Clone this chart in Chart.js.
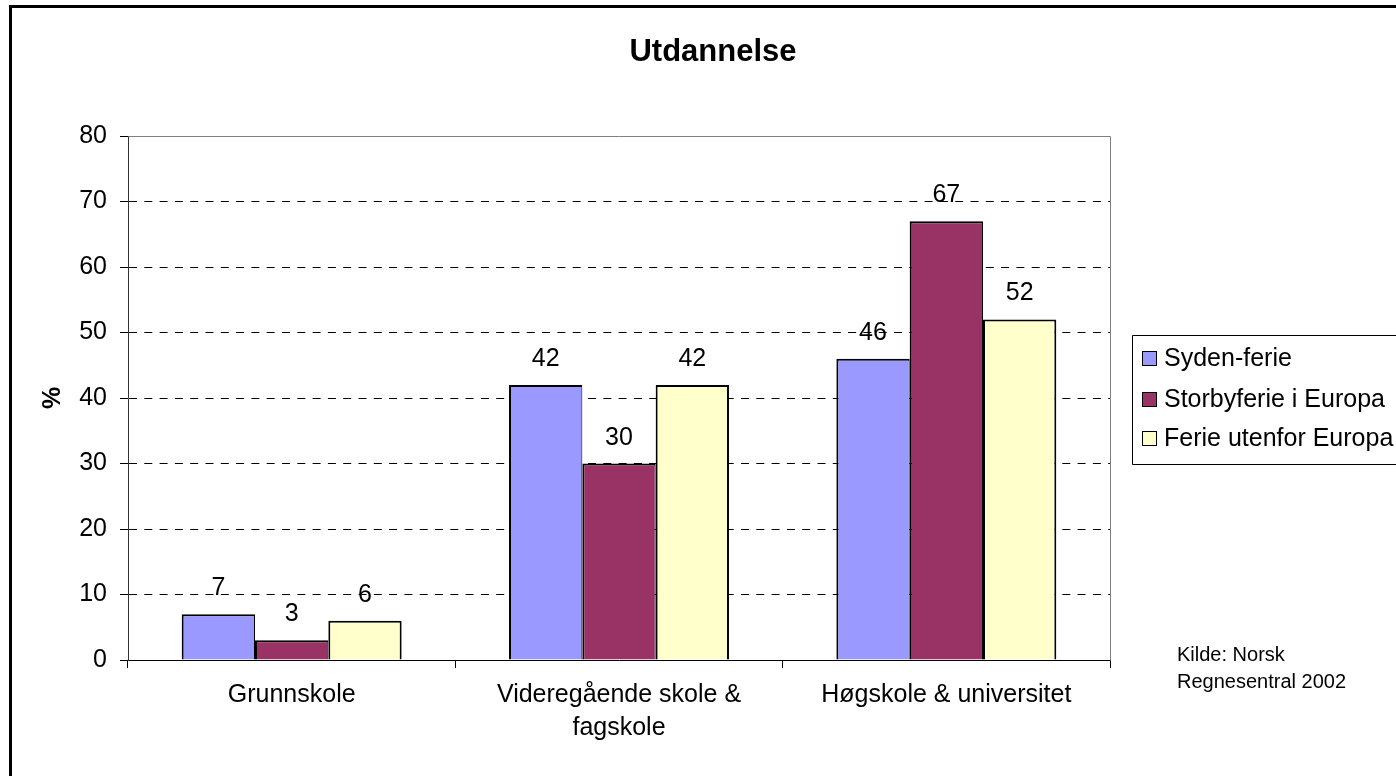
<!DOCTYPE html>
<html>
<head>
<meta charset="utf-8">
<script src="https://cdn.jsdelivr.net/npm/chart.js@4/dist/chart.umd.min.js"></script>
<style>
html,body{margin:0;padding:0;background:#fff;overflow:hidden}
canvas{display:block}
</style>
</head>
<body>
<canvas id="c" width="1396" height="776"></canvas>
<script>
// ---- data ----
const chartTitle = 'Utdannelse';
const categories = [['Grunnskole'], ['Videregående skole &', 'fagskole'], ['Høgskole & universitet']];
const seriesNames = ['Syden-ferie', 'Storbyferie i Europa', 'Ferie utenfor Europa'];
const sydenFerie = [7, 42, 46];
const storbyferieEuropa = [3, 30, 67];
const ferieUtenforEuropa = [6, 42, 52];
const yTicks = [0, 10, 20, 30, 40, 50, 60, 70, 80];
const yAxisTitle = '%';
const sourceLines = ['Kilde: Norsk', 'Regnesentral 2002'];

// ---- styles ----
const seriesColors = ['#9999FF', '#993366', '#FFFFCC'];
const FONT = '"Liberation Sans", Arial, sans-serif';
Chart.defaults.font.family = FONT;
Chart.defaults.color = '#000';

const seriesValues = [sydenFerie, storbyferieEuropa, ferieUtenforEuropa];
const borderWidths = [
  {top: 2, left: 2, right: 1, bottom: 0},
  {top: 2, left: 2, right: 1, bottom: 0},
  {top: 2, left: 2, right: 2, bottom: 0}
];

const decorPlugin = {
  id: 'decor',
  beforeDraw(chart) {
    const ctx = chart.ctx;
    ctx.save();
    ctx.fillStyle = '#fff';
    ctx.fillRect(0, 0, chart.width, chart.height);
    ctx.restore();
  },
  afterDatasetsDraw(chart) {
    const ctx = chart.ctx;
    const a = chart.chartArea;
    ctx.save();
    // plot area border (top, right)
    ctx.strokeStyle = '#808080';
    ctx.lineWidth = 1;
    ctx.beginPath();
    ctx.moveTo(Math.round(a.left) + 0.5, Math.round(a.top) + 0.5);
    ctx.lineTo(Math.round(a.right) + 0.5, Math.round(a.top) + 0.5);
    ctx.lineTo(Math.round(a.right) + 0.5, Math.round(a.bottom) + 0.5);
    ctx.stroke();
    // data labels
    ctx.font = '25px ' + FONT;
    ctx.fillStyle = '#000';
    ctx.textAlign = 'center';
    ctx.textBaseline = 'alphabetic';
    chart.data.datasets.forEach((ds, i) => {
      const meta = chart.getDatasetMeta(i);
      meta.data.forEach((bar, j) => {
        ctx.fillText(String(ds.data[j]), bar.x, bar.y - 19);
      });
    });
    ctx.restore();
  },
  afterDraw(chart) {
    const ctx = chart.ctx;
    ctx.save();
    // outer frame
    ctx.fillStyle = '#000';
    ctx.fillRect(9, 5, chart.width, 3);
    ctx.fillRect(9, 5, 3, chart.height);
    // title
    ctx.font = 'bold 31px ' + FONT;
    ctx.textAlign = 'center';
    ctx.textBaseline = 'alphabetic';
    ctx.fillText(chartTitle, 713, 61);
    // legend
    const lx = 1132, ly = 335, lh = 129;
    ctx.strokeStyle = '#000';
    ctx.lineWidth = 1;
    ctx.beginPath();
    ctx.moveTo(chart.width + 5, ly + 0.5);
    ctx.lineTo(lx + 0.5, ly + 0.5);
    ctx.lineTo(lx + 0.5, ly + lh + 0.5);
    ctx.lineTo(chart.width + 5, ly + lh + 0.5);
    ctx.stroke();
    ctx.font = '25px ' + FONT;
    ctx.textAlign = 'left';
    const baselines = [366, 407, 446];
    chart.data.datasets.forEach((ds, i) => {
      const b = baselines[i];
      ctx.fillStyle = ds.backgroundColor;
      ctx.fillRect(1142, b - 14, 15, 14);
      ctx.strokeStyle = '#000';
      ctx.lineWidth = 1;
      ctx.strokeRect(1142.5, b - 14.5, 14, 14);
      ctx.fillStyle = '#000';
      ctx.fillText(ds.label, 1164, b);
    });
    // source
    ctx.font = '20px ' + FONT;
    ctx.fillText(sourceLines[0], 1177, 661);
    ctx.fillText(sourceLines[1], 1177, 688);
    ctx.restore();
  }
};

new Chart(document.getElementById('c'), {
  type: 'bar',
  data: {
    labels: categories,
    datasets: seriesNames.map((name, i) => ({
      label: name,
      data: seriesValues[i],
      backgroundColor: seriesColors[i],
      borderColor: '#000',
      borderWidth: borderWidths[i],
      borderSkipped: false,
      categoryPercentage: 0.672,
      barPercentage: 1.0
    }))
  },
  options: {
    responsive: false,
    animation: false,
    devicePixelRatio: 1,
    layout: {padding: {top: 136, right: 286, left: 0, bottom: 0}},
    plugins: {
      legend: {display: false},
      title: {display: false},
      tooltip: {enabled: false}
    },
    scales: {
      x: {
        offset: true,
        grid: {offset: true, drawOnChartArea: false, drawTicks: true, tickLength: 8, color: '#000', tickColor: '#000'},
        border: {display: true, color: '#000', width: 1},
        ticks: {font: {size: 25, lineHeight: 1.32}, color: '#000', padding: 11, maxRotation: 0, minRotation: 0, autoSkip: false},
        afterFit(s) { s.height = 116; }
      },
      y: {
        min: 0, max: 80,
        afterBuildTicks(s) { s.ticks = yTicks.map(v => ({value: v})); },
        ticks: {font: {size: 25}, color: '#000', padding: 13},
        grid: {
          color: (c) => (c.tick && (c.tick.value === 0 || c.tick.value === 80)) ? 'rgba(0,0,0,0)' : '#000',
          tickColor: '#000', tickLength: 8, lineWidth: 1
        },
        border: {display: true, color: '#333', width: 1, dash: [8, 7.3]},
        title: {display: true, text: yAxisTitle, font: {size: 25, weight: 'bold'}, color: '#000', padding: {top: 38, bottom: 0}},
        afterFit(s) { s.width = 128; }
      }
    }
  },
  plugins: [decorPlugin]
});
</script>
</body>
</html>
